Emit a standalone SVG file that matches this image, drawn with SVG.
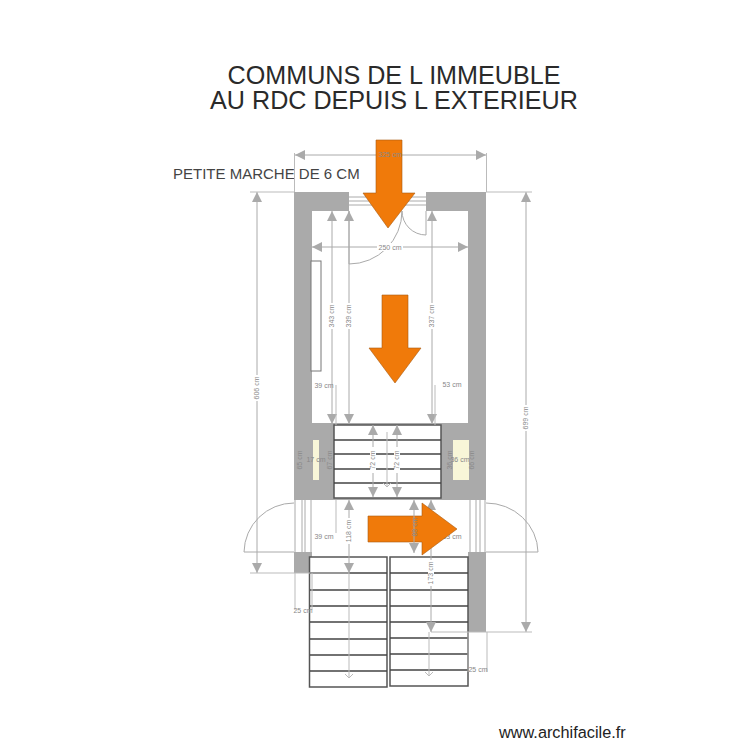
<svg xmlns="http://www.w3.org/2000/svg" width="750" height="750" viewBox="0 0 750 750">
<defs>
<marker id="a" markerWidth="11" markerHeight="11" refX="10" refY="5" orient="auto-start-reverse" markerUnits="userSpaceOnUse"><path d="M0 0L10 5L0 10z" fill="#aaa"/></marker>
<marker id="o" markerWidth="10" markerHeight="10" refX="5" refY="5" orient="auto" markerUnits="userSpaceOnUse"><path d="M1 1L5 5L1 9" fill="none" stroke="#bbb"/></marker>
</defs>
<style>
text{font-family:"Liberation Sans",Arial,sans-serif}
.t{font-size:25.150px;fill:#2a2a2a;text-anchor:middle}
.n{font-size:15px;fill:#444}
.u{font-size:16.300px;fill:#222}
.d{font-size:7px;fill:#888;text-anchor:middle}
.w{fill:#aaa}
.dim{stroke:#aaa;stroke-width:1;fill:none;marker-start:url(#a);marker-end:url(#a)}
.l{stroke:#bbb;stroke-width:1;fill:none}
.s{fill:#fff;stroke:#555;stroke-width:1.5}
.sl{stroke:#444;stroke-width:1.3}
.ar{fill:#f07a0a;stroke:#a85a10;stroke-width:.6}
.y{fill:#f8f6d8}
.door{fill:none;stroke:#aaa;stroke-width:1}
.g{fill:#fff}
</style>
<rect width="750" height="750" fill="#fff"/>
<g id="titre">
<text class="t" x="394" y="84">COMMUNS DE L IMMEUBLE</text>
<text class="t" x="394" y="109">AU RDC DEPUIS L EXTERIEUR</text>
<text class="n" x="173" y="179">PETITE MARCHE DE 6 CM</text>
</g>
<g id="murs">
<path class="w" d="M294 192H349V211H312V423H468V211H426V192H486V500H294Z"/>
<rect class="w" x="294" y="552" width="18" height="21"/>
<rect class="w" x="468" y="552" width="18" height="80"/>
<rect class="y" x="313" y="440" width="6" height="40"/>
<rect class="y" x="453" y="440" width="16" height="40"/>
<rect x="311" y="261" width="10" height="110" fill="#fff" stroke="#777"/>
</g>
<g id="portes">
<path class="door" d="M349 197H426M349 201H426M349 205H426"/>
<path class="door" d="M349 211V264A53 53 0 0 0 402 211"/>
<path class="door" d="M426 211V235A24 24 0 0 1 402 211"/>
<path class="door" d="M295 500V552M302 500V552M305 500V552M311 500V552M470 500V552M476 500V552M480 500V552M485 500V552"/>
<path class="door" d="M294 503A50 50 0 0 0 244 552H294M486 503A52 50 0 0 1 538 552H486"/>
</g>
<g id="escalier-haut">
<rect class="s" x="334" y="425" width="107" height="73"/>
<path class="sl" d="M334 440H441M334 454H441M334 469H441M334 483H441"/>
</g>
<g id="escalier-bas-gauche">
<rect class="s" x="309.500" y="557" width="77.500" height="130"/>
<path class="sl" d="M310 573H387M310 590H387M310 606H387M310 622H387M310 639H387M310 655H387M310 671H387"/>
</g>
<g id="escalier-bas-droit">
<rect class="s" x="390" y="557" width="78" height="129"/>
<path class="sl" d="M390 573H468M390 590H468M390 606H468M390 622H468M390 638H468M390 654H468M390 670H468"/>
</g>
<g id="connecteurs">
<path class="dim" d="M295 155H486"/>
<path class="l" d="M294.500 153V192M486.500 153V192"/>
<path class="dim" d="M312 247H468"/>
<path class="dim" d="M257 192V573"/>
<path class="l" d="M250 192H294M250 573H349"/>
<path class="dim" d="M526 192V632"/>
<path class="l" d="M486 192H532M431 632H532"/>
<path class="dim" d="M332 211V424"/>
<path class="dim" d="M349 211V424"/>
<path class="dim" d="M432 211V424"/>
<path class="l" d="M336 385V425M435 385V425M336 500V533"/>
<path class="dim" d="M373 425V497"/>
<path class="dim" d="M397 425V497"/>
<path class="l" d="M387 432V487" marker-end="url(#o)"/>
<path class="dim" d="M349 500V573"/>
<path class="l" d="M349 573V678" marker-end="url(#o)"/>
<path class="dim" d="M431 500V632"/>
<path class="l" d="M429 632V676" marker-end="url(#o)"/>
<path class="l" d="M295 573V610M312 573V610M468 632V672M487 632V672"/>
</g>
<g id="cotes">
<rect class="g" x="377" y="243" width="26" height="8"/>
<text class="d" x="390" y="250">250 cm</text>
<rect class="g" x="254" y="375" width="6" height="26"/>
<text class="d" transform="translate(259,388) rotate(-90)">606 cm</text>
<rect class="g" x="523" y="405" width="6" height="26"/>
<text class="d" transform="translate(528,418) rotate(-90)">699 cm</text>
<rect class="g" x="329" y="303" width="6" height="26"/>
<text class="d" transform="translate(334,316) rotate(-90)">343 cm</text>
<rect class="g" x="346" y="303" width="6" height="26"/>
<text class="d" transform="translate(351,316) rotate(-90)">339 cm</text>
<rect class="g" x="429" y="303" width="6" height="26"/>
<text class="d" transform="translate(434,316) rotate(-90)">337 cm</text>
<text class="d" x="324" y="388">39 cm</text>
<text class="d" x="452" y="387">53 cm</text>
<text class="d" x="324" y="539">39 cm</text>
<text class="d" x="452" y="539">53 cm</text>
<text class="d" x="303" y="613">25 cm</text>
<text class="d" x="478" y="672">25 cm</text>
<text class="d" transform="translate(302,460) rotate(-90)">65 cm</text>
<text class="d" transform="translate(332,460) rotate(-90)">67 cm</text>
<text class="d" x="316" y="462">17 cm</text>
<text class="d" transform="translate(452,460) rotate(-90)">36 cm</text>
<text class="d" x="460" y="462">36 cm</text>
<text class="d" transform="translate(474,460) rotate(-90)">66 cm</text>
<rect class="g" x="370" y="447" width="6" height="26"/>
<text class="d" transform="translate(375,460) rotate(-90)">72 cm</text>
<rect class="g" x="394" y="447" width="6" height="26"/>
<text class="d" transform="translate(399,460) rotate(-90)">72 cm</text>
<rect class="g" x="346" y="518" width="6" height="26"/>
<text class="d" transform="translate(351,531) rotate(-90)">118 cm</text>
<rect class="g" x="428" y="560" width="6" height="26"/>
<text class="d" transform="translate(433,573) rotate(-90)">173 cm</text>
</g>
<g id="fleche-1"><path class="ar" d="M376 140H402V193H415L388 228L363 193H376Z"/></g>
<g id="fleche-2"><path class="ar" d="M382 295H408V348H421L395 383L369 348H382Z"/></g>
<g id="fleche-3"><path class="ar" d="M368 516H422V503L457 529L422 555V542H368Z"/></g>
<g id="cotes-dessus">
<text class="d" x="390" y="157">325 cm</text>
<path class="dim" d="M414 500V553"/>
<text class="d" transform="translate(417,527) rotate(-90)">88 cm</text>
</g>
<g id="site"><text class="u" x="499" y="738">www.archifacile.fr</text></g>
</svg>
